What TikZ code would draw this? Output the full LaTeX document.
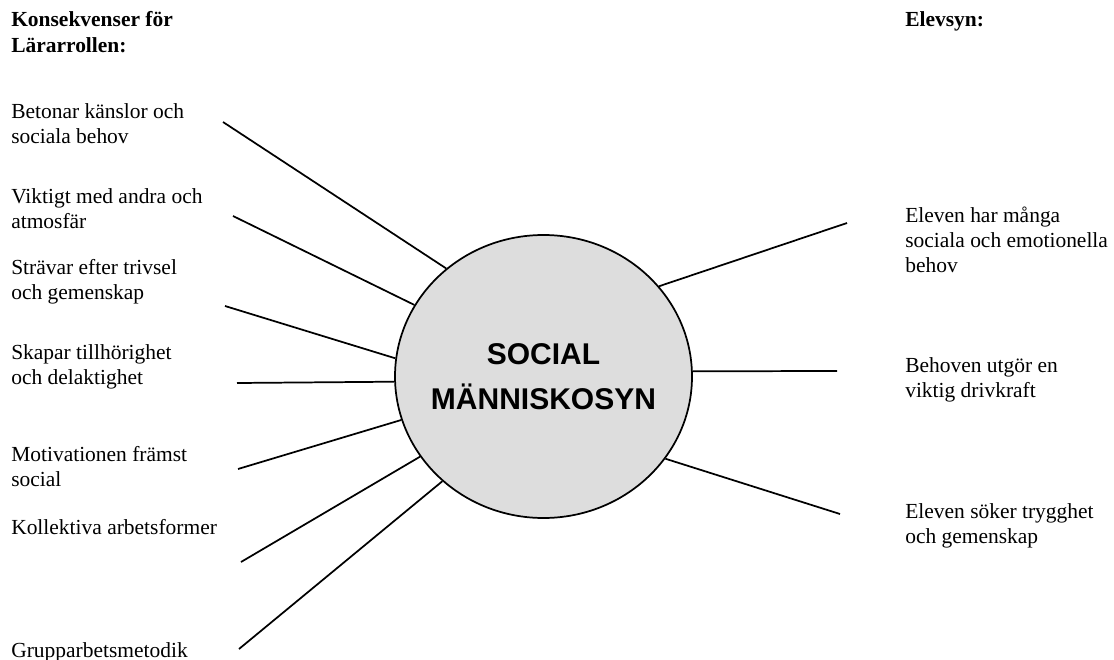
\documentclass[tikz,border=0pt]{standalone}
\usepackage{fontspec}
\setmainfont{Liberation Serif}
\newfontfamily\hubfont{Liberation Sans}
\usetikzlibrary{shapes.geometric}
\definecolor{hubgray}{RGB}{221,221,221}

\begin{document}
\begin{tikzpicture}[x=0.75pt,y=-0.75pt,
  lbl/.style={anchor=base west,align=left,inner sep=0pt,font=\fontsize{16.1}{18.6}\selectfont},
  hdr/.style={lbl,font=\fontsize{16.1}{19.5}\selectfont\bfseries},
  spoke/.style={line width=1.3pt},
  hub/.style={ellipse,draw,line width=1.3pt,fill=hubgray,minimum width=222.75pt,minimum height=212.25pt,inner sep=0pt},
  hubtext/.style={align=center,inner sep=0pt,font=\fontsize{22.5}{33.75}\selectfont\hubfont\bfseries}]
\useasboundingbox (0,0) rectangle (1114,660);

\node[hub] (hub) at (543.5,376.5) {};
\node[hubtext] (hubname) at (hub.center) {SOCIAL\\MÄNNISKOSYN};

\node[hdr] (hdrL) at (11,53) {Konsekvenser för\\Lärarrollen:};
\node[hdr] (hdrR) at (905,27) {Elevsyn:};

\node[lbl] (t1) at (11,143) {Betonar känslor och\\sociala behov};
\node[lbl] (t2) at (11,228) {Viktigt med andra och\\atmosfär};
\node[lbl] (t3) at (11,299) {Strävar efter trivsel\\och gemenskap};
\node[lbl] (t4) at (11,384) {Skapar tillhörighet\\och delaktighet};
\node[lbl] (t5) at (11,486) {Motivationen främst\\social};
\node[lbl] (t6) at (11,534) {Kollektiva arbetsformer};
\node[lbl] (t7) at (11,657) {Grupparbetsmetodik};

\node[lbl] (r1) at (905,272) {Eleven har många\\sociala och emotionella\\behov};
\node[lbl] (r2) at (905,397) {Behoven utgör en\\viktig drivkraft};
\node[lbl] (r3) at (905,543) {Eleven söker trygghet\\och gemenskap};

\coordinate (p1) at (223,122);
\coordinate (p2) at (233,216);
\coordinate (p3) at (225,306);
\coordinate (p4) at (237,383);
\coordinate (p5) at (238,469);
\coordinate (p6) at (241,562);
\coordinate (p7) at (239,649);
\coordinate (q1) at (847,223);
\coordinate (q2) at (837,371);
\coordinate (q3) at (840,514);

\draw[spoke] (p1) -- (hub.132.5);
\draw[spoke] (p2) -- (hub.151);
\draw[spoke] (p3) -- (hub.173);
\draw[spoke] (p4) -- (hub.182.5);
\draw[spoke] (p5) -- (hub.197);
\draw[spoke] (p6) -- (hub.213);
\draw[spoke] (p7) -- (hub.226.5);
\draw[spoke] (q1) -- (hub.38.5);
\draw[spoke] (q2) -- (hub.2);
\draw[spoke] (q3) -- (hub.326);
\end{tikzpicture}
\end{document}
